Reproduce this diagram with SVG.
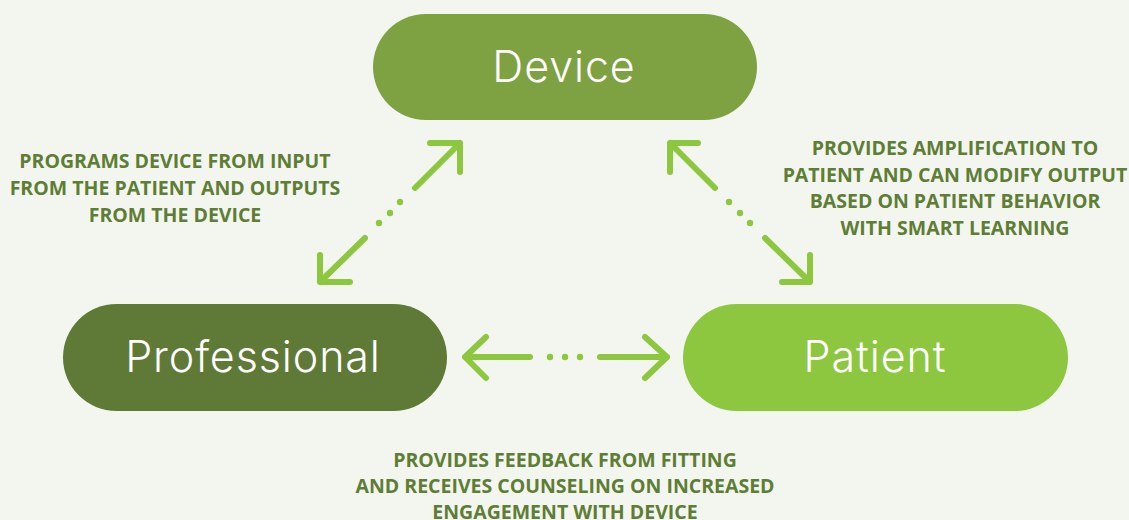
<svg xmlns="http://www.w3.org/2000/svg" width="1129" height="520" viewBox="0 0 1129 520">
<style>
.pill-text{font-family:Inter,"Noto Sans",sans-serif;font-weight:300;font-size:43px;letter-spacing:0.9px;fill:#ffffff;text-anchor:middle}
.lbl{font-family:"Open Sans","Noto Sans",sans-serif;font-weight:700;font-size:19.5px;fill:#5e7d35;text-anchor:middle}
.ln{fill:none;stroke:#8dc63f;stroke-width:6;stroke-linecap:round;stroke-linejoin:round}
.dot{fill:#8dc63f}
</style>
<rect width="1129" height="520" fill="#f3f6ef"/>
<g id="device">
<rect x="373" y="14" width="384" height="106" rx="53" fill="#7ea142"/>
<text class="pill-text" x="564" y="82">Device</text>
</g>
<g id="professional">
<rect x="63" y="304" width="384" height="107" rx="53.5" fill="#5f7a37"/>
<text class="pill-text" x="253" y="372">Professional</text>
</g>
<g id="patient">
<rect x="683" y="304" width="385" height="107" rx="53.5" fill="#8dc63f"/>
<text class="pill-text" x="875" y="372">Patient</text>
</g>
<g id="connectors">
<path class="ln" d="M415 188 L460 143 M430 143 L460 143 L460 172"/>
<circle class="dot" cx="400" cy="202" r="3.2"/>
<circle class="dot" cx="390" cy="213" r="3.2"/>
<circle class="dot" cx="379" cy="223" r="3.2"/>
<path class="ln" d="M365 238 L320 282 M320 255 L320 282 L350 282"/>
<path class="ln" d="M715 188 L670 143 M698 143 L670 143 L670 172"/>
<circle class="dot" cx="729" cy="202" r="3.2"/>
<circle class="dot" cx="740" cy="213" r="3.2"/>
<circle class="dot" cx="750" cy="223" r="3.2"/>
<path class="ln" d="M765 238 L810 282 M810 255 L810 282 L782 282"/>
<path class="ln" d="M530 357 L465 357 M486 337 L465 357 L486 378"/>
<circle class="dot" cx="550" cy="357" r="3.2"/>
<circle class="dot" cx="565" cy="357" r="3.2"/>
<circle class="dot" cx="580" cy="357" r="3.2"/>
<path class="ln" d="M600 357 L667 357 M645 337 L667 357 L645 378"/>
</g>
<g id="label-professional-device">
<text class="lbl" x="175" y="168">PROGRAMS DEVICE FROM INPUT</text>
<text class="lbl" x="175" y="195">FROM THE PATIENT AND OUTPUTS</text>
<text class="lbl" x="175" y="222">FROM THE DEVICE</text>
</g>
<g id="label-device-patient">
<text class="lbl" x="955" y="155">PROVIDES AMPLIFICATION TO</text>
<text class="lbl" x="955" y="182">PATIENT AND CAN MODIFY OUTPUT</text>
<text class="lbl" x="955" y="208">BASED ON PATIENT BEHAVIOR</text>
<text class="lbl" x="955" y="235">WITH SMART LEARNING</text>
</g>
<g id="label-professional-patient">
<text class="lbl" x="565" y="467">PROVIDES FEEDBACK FROM FITTING</text>
<text class="lbl" x="565" y="493">AND RECEIVES COUNSELING ON INCREASED</text>
<text class="lbl" x="565" y="519">ENGAGEMENT WITH DEVICE</text>
</g>
</svg>
